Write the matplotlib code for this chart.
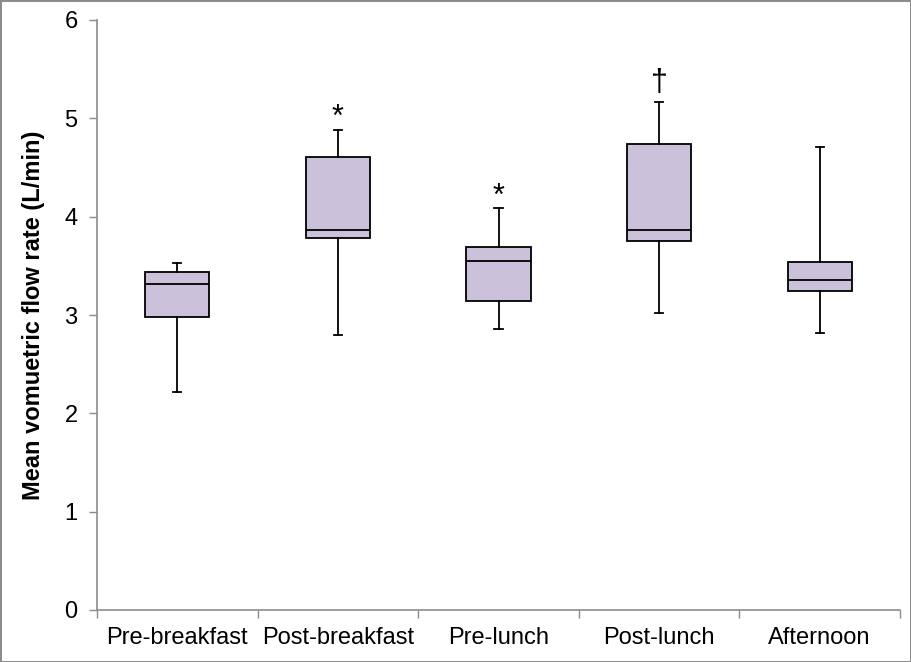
import matplotlib
matplotlib.use("Agg")
import matplotlib.pyplot as plt
from matplotlib.ticker import FixedLocator, NullFormatter

plt.rcParams['font.family'] = ['Liberation Sans', 'DejaVu Sans']

# box statistics (L/min)
categories = ['Pre-breakfast', 'Post-breakfast', 'Pre-lunch', 'Post-lunch', 'Afternoon']
whisker_low = [2.22, 2.80, 2.86, 3.02, 2.82]
q1 = [2.98, 3.78, 3.14, 3.75, 3.24]
median = [3.32, 3.86, 3.55, 3.86, 3.36]
q3 = [3.44, 4.61, 3.69, 4.74, 3.54]
whisker_high = [3.53, 4.88, 4.085, 5.17, 4.71]

# significance marks above the boxes
marks = {'Post-breakfast': '*', 'Pre-lunch': '*', 'Post-lunch': '\u2020'}

FILL = '#CCC1DA'
GREY = '#8C8C8C'

stats = []
for i, name in enumerate(categories):
    stats.append(dict(label=name, whislo=whisker_low[i], q1=q1[i], med=median[i],
                      q3=q3[i], whishi=whisker_high[i], fliers=[]))

fig = plt.figure(figsize=(9.11, 6.62), dpi=100)
fig.patch.set_edgecolor(GREY)
fig.patch.set_linewidth(2)
ax = fig.add_axes([97 / 911, 52 / 662, 803 / 911, 590 / 662])

positions = list(range(1, len(categories) + 1))
ax.bxp(stats, positions=positions, widths=0.4, capwidths=0.05, patch_artist=True,
       showfliers=False,
       boxprops=dict(facecolor=FILL, edgecolor='black', linewidth=1.3),
       medianprops=dict(color='black', linewidth=1.3),
       whiskerprops=dict(color='black', linewidth=1.3),
       capprops=dict(color='black', linewidth=1.3))

for i, name in enumerate(categories):
    if name in marks:
        sym = marks[name]
        off = 0.12 if sym == '*' else 0.19
        ax.text(positions[i], whisker_high[i] + off, sym, ha='center', va='center',
                fontsize=22)

ax.set_xlim(0.5, len(categories) + 0.5)
ax.set_ylim(0, 6)
ax.set_yticks(range(0, 7))
ax.tick_params(axis='y', labelsize=17, color=GREY, length=6, width=1, pad=8)

ax.xaxis.set_major_locator(FixedLocator([p - 0.5 for p in positions] + [positions[-1] + 0.5]))
ax.xaxis.set_major_formatter(NullFormatter())
ax.xaxis.set_minor_locator(FixedLocator(positions))
ax.set_xticklabels(categories, minor=True)
ax.tick_params(axis='x', which='major', color=GREY, length=6, width=1)
ax.tick_params(axis='x', which='minor', length=0, labelsize=17, pad=12)

for s in ['top', 'right']:
    ax.spines[s].set_visible(False)
for s in ['left', 'bottom']:
    ax.spines[s].set_color(GREY)
    ax.spines[s].set_linewidth(1.2)

ax.set_ylabel('Mean vomuetric flow rate (L/min)', fontsize=17, fontweight='bold', labelpad=14)

fig.savefig('out.png', dpi=100)
